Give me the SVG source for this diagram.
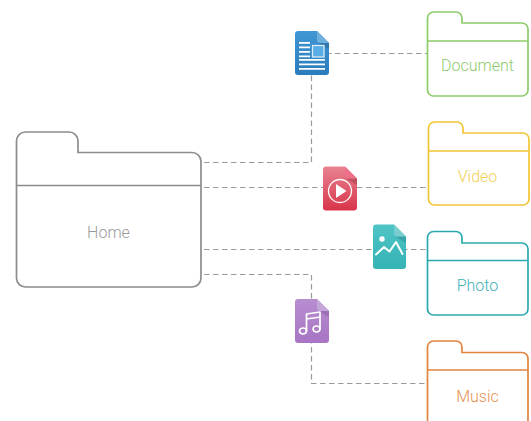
<svg xmlns="http://www.w3.org/2000/svg" width="531" height="421" viewBox="0 0 531 421">
<defs>
<linearGradient id="gb" x1="0" y1="0" x2="0" y2="1"><stop offset="0" stop-color="#3f97d3"/><stop offset="1" stop-color="#2a7cbd"/></linearGradient>
<linearGradient id="gr" x1="0" y1="0" x2="0" y2="1"><stop offset="0" stop-color="#e88392"/><stop offset="1" stop-color="#d8344a"/></linearGradient>
<linearGradient id="gt" x1="0" y1="0" x2="0" y2="1"><stop offset="0" stop-color="#4fc4c6"/><stop offset="1" stop-color="#35b3b5"/></linearGradient>
<linearGradient id="gp" x1="0" y1="0" x2="0" y2="1"><stop offset="0" stop-color="#b88dd0"/><stop offset="1" stop-color="#a775c4"/></linearGradient>
</defs>
<style>
.c{fill:none;stroke:#9a9a9a;stroke-width:1.2;stroke-dasharray:5.500 3.500}
.f{fill:#fff;stroke-width:1.700}
.l{fill:none;stroke-width:1.700}
text{font-family:Roboto,"Liberation Sans",sans-serif;font-weight:300;text-anchor:middle}
.w{fill:none;stroke:#fff;stroke-linecap:round;stroke-linejoin:round}
</style>
<g id="connectors">
<path class="c" d="M204 162.500H311.500V60"/>
<path class="c" d="M204 187.500H428"/>
<path class="c" d="M204 249.500H428"/>
<path class="c" d="M204 274.500H311.500V383.500H427"/>
<path class="c" d="M326 53.500H427"/>
</g>
<g id="home">
<path class="f" stroke="#8c8c8c" d="M16.500 141a9 9 0 0 1 9-9H69a9 9 0 0 1 9 9V152.500H192a9 9 0 0 1 9 9V278a9 9 0 0 1-9 9H25.500a9 9 0 0 1-9-9Z"/>
<path class="l" stroke="#8c8c8c" d="M16.500 185.500H201"/>
<text x="108.500" y="238" font-size="16" fill="#9a9a9a">Home</text>
</g>
<g id="document">
<path class="f" stroke="#8ecb6a" d="M427.500 18a6 6 0 0 1 6-6H456a6 6 0 0 1 6 6V23H522a6 6 0 0 1 6 6V90a6 6 0 0 1-6 6H433.500a6 6 0 0 1-6-6Z"/>
<path class="l" stroke="#8ecb6a" d="M427.500 41H528"/>
<text x="477.500" y="71" font-size="16" fill="#8ecb6a">Document</text>
</g>
<g id="video">
<path class="f" stroke="#f1c635" d="M428.500 128a6 6 0 0 1 6-6H457a6 6 0 0 1 6 6V133H523a6 6 0 0 1 6 6V199a6 6 0 0 1-6 6H434.500a6 6 0 0 1-6-6Z"/>
<path class="l" stroke="#f1c635" d="M428.500 151H529"/>
<text x="477.500" y="182" font-size="16" fill="#f3cf55">Video</text>
</g>
<g id="photo">
<path class="f" stroke="#2ca9b0" d="M427.500 237.500a6 6 0 0 1 6-6H456a6 6 0 0 1 6 6V243H522a6 6 0 0 1 6 6V309a6 6 0 0 1-6 6H433.500a6 6 0 0 1-6-6Z"/>
<path class="l" stroke="#2ca9b0" d="M427.500 260.500H528"/>
<text x="477.500" y="291" font-size="16" fill="#3fb2b8">Photo</text>
</g>
<g id="music">
<path class="f" stroke="#e08440" d="M427.500 347a6 6 0 0 1 6-6H456a6 6 0 0 1 6 6V352.500H522a6 6 0 0 1 6 6V430H427.500Z"/>
<path class="l" stroke="#e08440" d="M427.500 370H528"/>
<text x="477.500" y="402" font-size="16" fill="#e6914f">Music</text>
</g>
<g id="icon-document">
<path fill="url(#gb)" d="M298 31H317L329 43V72a3 3 0 0 1-3 3H298a3 3 0 0 1-3-3V34a3 3 0 0 1 3-3Z"/>
<path fill="#2a6ea3" opacity=".7" d="M318 43H329V49Z"/>
<path fill="#6db0de" d="M317 31L329 43H320a3 3 0 0 1-3-3Z"/>
<path fill="#fff" d="M299 42h11v1.700h-11zM299 46.500h11v1.700h-11zM299 51h11v1.700h-11zM299 55.500h11v1.700h-11zM299 59h26v1.700h-26zM299 63.500h26v1.700h-26zM299 68h26v1.700h-26z"/>
<rect x="312.500" y="45.500" width="11.500" height="11.500" fill="#58ade6" stroke="#d9ecf8" stroke-width="1.300"/>
</g>
<g id="icon-video">
<path fill="url(#gr)" d="M326 166.500H345L357 178.500V207.500a3 3 0 0 1-3 3H326a3 3 0 0 1-3-3V169.500a3 3 0 0 1 3-3Z"/>
<path fill="#a8404f" opacity=".6" d="M346 178.500H357V185Z"/>
<path fill="#ee6f88" d="M345 166.500L357 178.500H348a3 3 0 0 1-3-3Z"/>
<circle cx="340" cy="191" r="11.500" class="w" stroke-width="1.300"/>
<path fill="#fff" d="M336 184L346.500 191L336 198Z"/>
</g>
<g id="icon-photo">
<path fill="url(#gt)" d="M376 224.500H394L406 236.500V266a3 3 0 0 1-3 3H376a3 3 0 0 1-3-3V227.500a3 3 0 0 1 3-3Z"/>
<path fill="#2f9a9c" opacity=".7" d="M395 236.500H406V243Z"/>
<path fill="#7accce" d="M394 224.500L406 236.500H397a3 3 0 0 1-3-3Z"/>
<circle cx="382" cy="239" r="2.700" fill="#fff"/>
<path class="w" stroke-width="2" d="M376 254.500L384 247L389.500 251.500L396 242L402.500 254"/>
</g>
<g id="icon-music">
<path fill="url(#gp)" d="M298 299H317L329 311V340a3 3 0 0 1-3 3H298a3 3 0 0 1-3-3V302a3 3 0 0 1 3-3Z"/>
<path fill="#8d62a8" opacity=".6" d="M318 311H329V317Z"/>
<path fill="#c4a6d9" d="M317 299L329 311H320a3 3 0 0 1-3-3Z"/>
<ellipse cx="303" cy="331" rx="3.500" ry="3" class="w" stroke-width="1.700"/>
<ellipse cx="316.500" cy="329" rx="3.500" ry="3" class="w" stroke-width="1.700"/>
<path class="w" stroke-width="1.700" d="M306.500 331V314L320 312V329M306.500 319L320 317"/>
</g>
</svg>
